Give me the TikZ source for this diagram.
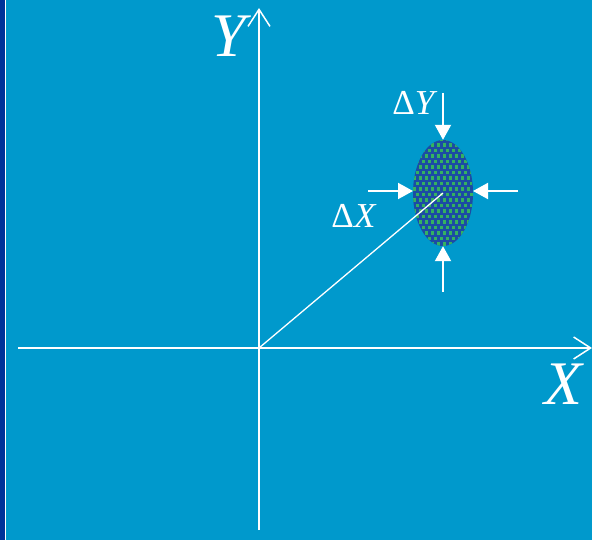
\documentclass[tikz,border=0pt]{standalone}
\usepackage{fontspec}
\setmainfont{Liberation Serif}
\usetikzlibrary{arrows.meta,shapes.geometric}
\definecolor{bg}{HTML}{0099CC}
\definecolor{strip}{HTML}{003399}
\definecolor{spotbase}{HTML}{1C4CA4}
\definecolor{spotdot}{HTML}{34B260}
\begin{document}
\begin{tikzpicture}[x=1pt,y=-1pt,
  axis/.style={white,line width=1.5pt,-{Straight Barb[length=17pt,width=22pt,line width=1.5pt]}},
  sarrow/.style={white,line width=2pt,-{Triangle[length=15pt,width=16pt]}},
  biglab/.style={white,font=\fontsize{62}{62}\selectfont\itshape,inner sep=0pt},
  dlab/.style={white,font=\fontsize{35}{35}\selectfont,inner sep=0pt}]
\useasboundingbox (0,0) rectangle (592,540);
\fill[bg] (0,0) rectangle (592,540);
\fill[strip] (0,0) rectangle (4.5,540);
\fill[white] (4.5,0) rectangle (6.3,540);
% axes
\coordinate (O) at (259,348);
\coordinate (xs) at (18,348);
\coordinate (xe) at (592,348);
\coordinate (ys) at (259,530);
\coordinate (ye) at (259,8);
\draw[axis] (xs) -- (xe);
\draw[axis] (ys) -- (ye);
\node[biglab] (ylab) at (229,36) {Y};
\node[biglab] (xlab) at (563,384) {X};
% spot
\begin{scope}
\clip (443,193) ellipse [x radius=30, y radius=53];
\fill[spotbase] (410,138) rectangle (476,248);
\foreach \r in {0,...,20} {
  \foreach \c in {0,...,11} {
    \fill[spotdot] ({410+\c*6+mod(\r,2)*3},{138+\r*5.5}) rectangle +(3.3,3.3);
  }
}
\end{scope}
\node[ellipse,minimum width=60pt,minimum height=106pt,inner sep=0pt] (E) at (443,193) {};
\draw[white,line width=1.3pt] (O) -- (E.center);
% arrows
\coordinate (ta) at (443,93);
\coordinate (ba) at (443,292);
\coordinate (la) at (368,191);
\coordinate (ra) at (518,191);
\draw[sarrow] (ta) -- (E.north);
\draw[sarrow] (ba) -- (E.south);
\draw[sarrow] (la) -- (413,191) coordinate (lt);
\draw[sarrow] (ra) -- (473,191) coordinate (rt);
\node[dlab] (dy) at (415,103) {Δ\textit{Y}};
\node[dlab] (dx) at (354,216) {Δ\textit{X}};
\end{tikzpicture}
\end{document}
